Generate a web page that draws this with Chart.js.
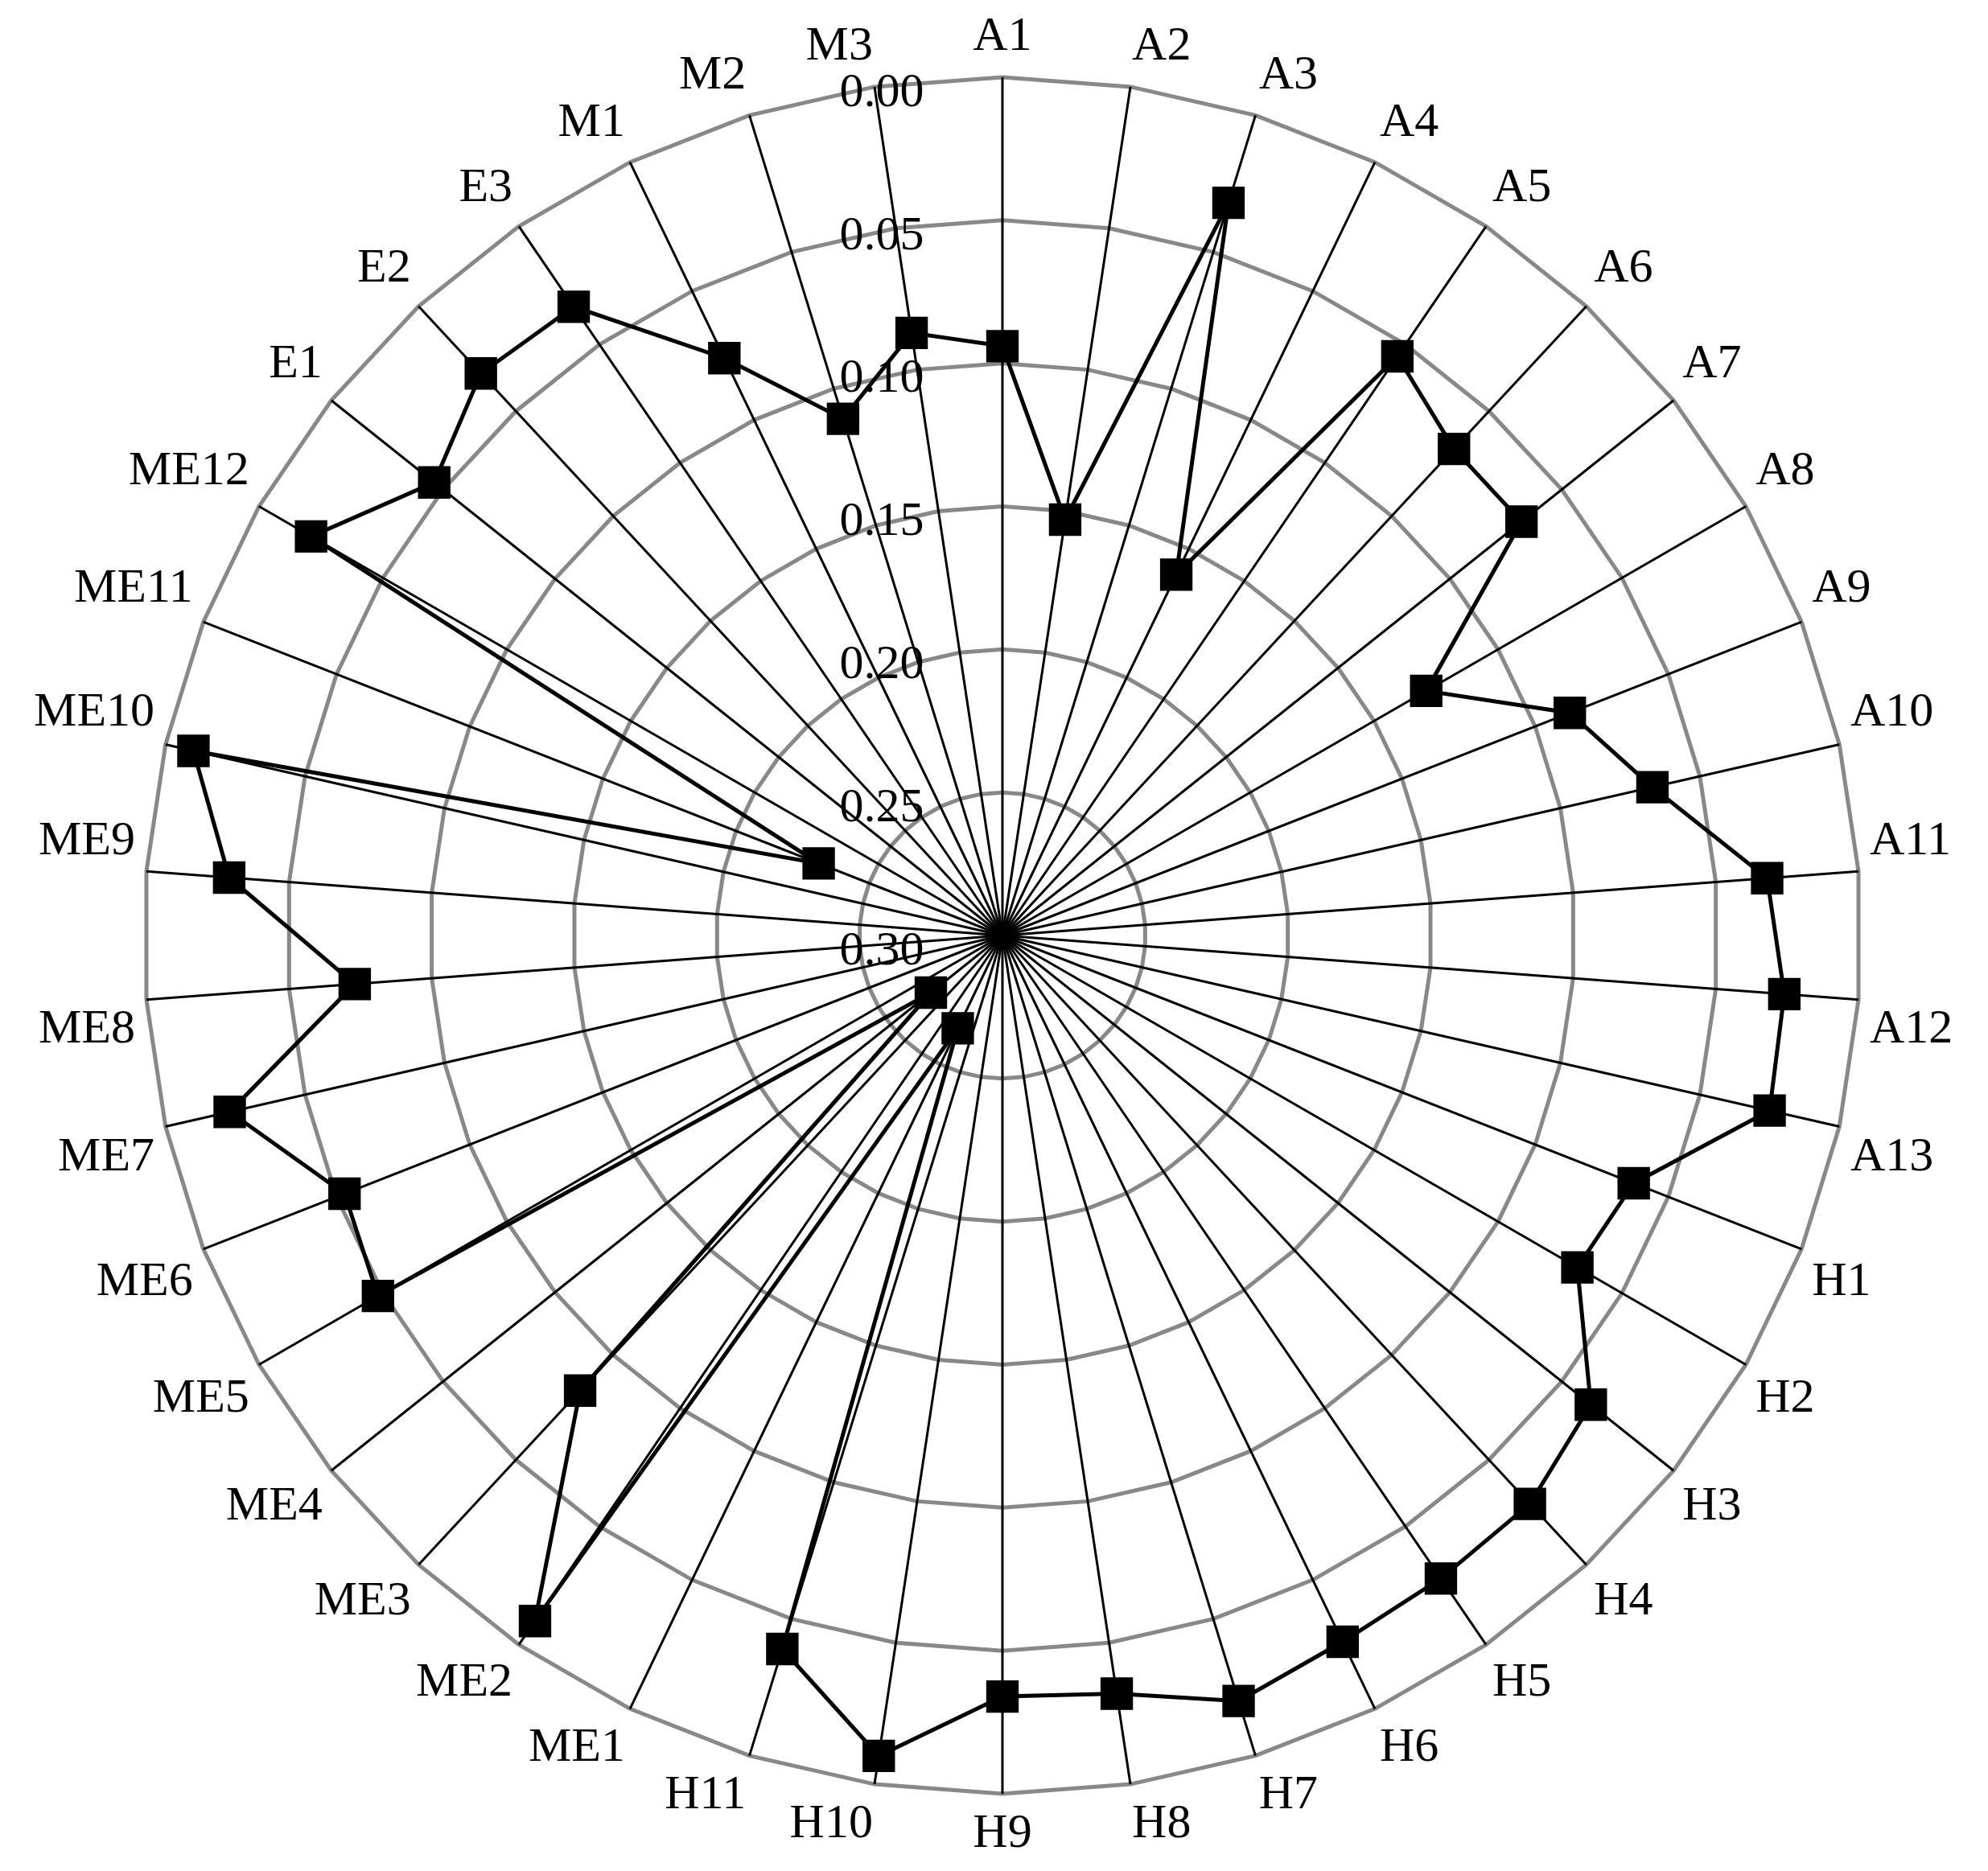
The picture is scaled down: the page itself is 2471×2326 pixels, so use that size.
<!DOCTYPE html>
<html><head><meta charset="utf-8">
<script src="https://cdn.jsdelivr.net/npm/chart.js@4"></script>
<style>html,body{margin:0;padding:0;background:#fff}#w{width:2471px;height:2326px}</style>
</head><body><div id="w"><canvas id="c"></canvas></div>
<script>
const categories = ["A1","A2","A3","A4","A5","A6","A7","A8","A9","A10","A11","A12","A13",
"H1","H2","H3","H4","H5","H6","H7","H8","H9","H10","H11",
"ME1","ME2","ME3","ME4","ME5","ME6","ME7","ME8","ME9","ME10","ME11","ME12",
"E1","E2","E3","M1","M2","M3"];
const values = [0.094,0.153,0.032,0.160,0.055,0.068,0.068,0.129,0.087,0.067,0.032,0.026,0.025,
0.063,0.068,0.037,0.029,0.028,0.026,0.020,0.032,0.034,0.010,0.039,
0.264,0.010,0.083,0.268,0.048,0.053,0.023,0.073,0.029,0.010,0.231,0.021,
0.046,0.032,0.034,0.076,0.111,0.087];
const tickLabels = ["0.00","0.05","0.10","0.15","0.20","0.25","0.30"];
const tickValues = [0,0.05,0.10,0.15,0.20,0.25,0.30];
const FONT = "'Liberation Serif','DejaVu Serif',serif";
const tickPlugin = {
  id:'ticks2',
  afterDatasetsDraw(chart){
    const s = chart.scales.r, ctx = chart.ctx;
    ctx.save();
    ctx.font = "60px " + FONT;
    ctx.fillStyle = "#000";
    ctx.textAlign = "center";
    ctx.textBaseline = "middle";
    tickValues.forEach((v,i)=>{
      const d = s.getDistanceFromCenterForValue(v);
      ctx.fillText(tickLabels[i], s.xCenter - 150 + d*0.0, s.yCenter - d + 20);
    });
    ctx.restore();
  }
};
new Chart(document.getElementById('c'),{
  type:'radar',
  data:{labels:categories,datasets:[{data:values,borderColor:'#000',borderWidth:5,
    backgroundColor:'rgba(0,0,0,0)',fill:false,pointStyle:'rect',pointRadius:25,
    pointBackgroundColor:'#000',pointBorderColor:'#000',pointHoverRadius:25}]},
  options:{responsive:true,maintainAspectRatio:false,animation:false,
    layout:{padding:{left:20,right:20,top:10,bottom:10}},
    plugins:{legend:{display:false},tooltip:{enabled:false}},
    scales:{r:{min:0,max:0.3,reverse:true,
      ticks:{display:false,stepSize:0.05},
      grid:{color:'#888',lineWidth:5},
      angleLines:{color:'#000',lineWidth:3},
      pointLabels:{font:{size:60,family:FONT},color:'#000',padding:14}
    }}},
  plugins:[tickPlugin]
});
</script></body></html>
